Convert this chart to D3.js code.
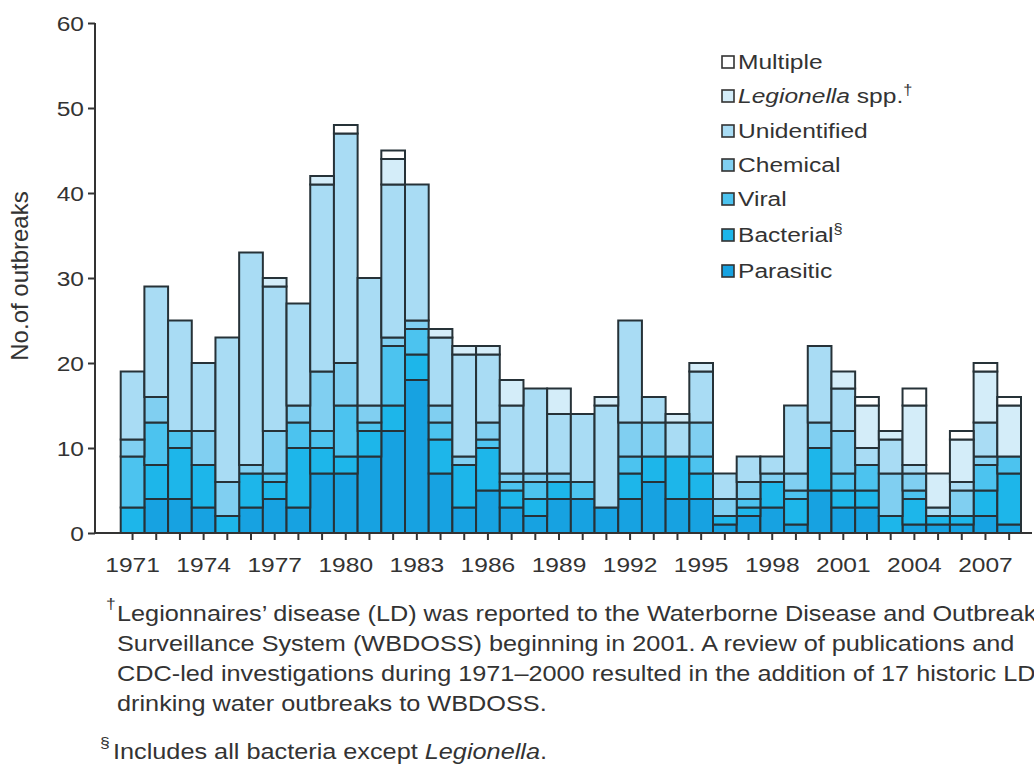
<!DOCTYPE html>
<html><head><meta charset="utf-8">
<script src="https://cdn.jsdelivr.net/npm/d3@7"></script>
<style>body{margin:0;background:#fff}svg{display:block}text{font-family:"Liberation Sans",Arial,sans-serif;fill:#333}</style>
</head><body>
<svg id="c" width="1034" height="765"></svg>
<script>
const years = [1971,1972,1973,1974,1975,1976,1977,1978,1979,1980,1981,1982,1983,1984,1985,1986,1987,1988,1989,1990,1991,1992,1993,1994,1995,1996,1997,1998,1999,2000,2001,2002,2003,2004,2005,2006,2007,2008];
const parasitic    = [0,4,4,3,0,3,4,3,7,7,9,12,18,7,3,5,3,2,4,4,3,4,6,4,4,1,2,3,1,5,3,3,0,1,1,1,2,1];
const bacterial    = [3,4,6,5,2,4,2,7,3,2,3,3,3,4,5,5,2,2,2,0,0,3,3,5,3,1,1,3,3,5,2,2,2,3,1,1,3,6];
const viral        = [6,5,2,0,0,0,1,3,2,6,1,7,3,2,0,1,1,2,0,2,0,2,0,0,2,0,1,0,1,0,2,3,0,1,0,0,3,2];
const chemical     = [2,3,0,4,4,1,5,2,7,5,2,1,1,2,1,2,1,1,1,0,0,4,4,0,4,2,2,1,2,3,5,0,5,2,0,3,1,0];
const unidentified = [8,13,13,8,17,25,17,12,22,27,15,18,16,8,12,8,8,10,7,8,12,12,3,4,6,3,3,2,8,9,5,2,4,1,1,1,4,0];
const legionella   = [0,0,0,0,0,0,1,0,1,0,0,3,0,1,1,1,3,0,3,0,1,0,0,1,1,0,0,0,0,0,2,5,1,7,4,5,6,6];
const multiple     = [0,0,0,0,0,0,0,0,0,1,0,1,0,0,0,0,0,0,0,0,0,0,0,0,0,0,0,0,0,0,0,1,0,2,0,1,1,1];
const seriesKeys = ["Parasitic","Bacterial","Viral","Chemical","Unidentified","Legionella","Multiple"];
const seriesVals = [parasitic,bacterial,viral,chemical,unidentified,legionella,multiple];
const colors = ["#17a2e1","#1db6ea","#4cc3ef","#80cff1","#a9dcf4","#d4edf9","#ffffff"];
const yTicks = [0,10,20,30,40,50,60];
const xLabelYears = [1971,1974,1977,1980,1983,1986,1989,1992,1995,1998,2001,2004,2007];

const SX = 1.17; // horizontal stretch of the original lettering
const svg = d3.select("#c");
const table = years.map((yr,i)=>{const o={year:yr}; seriesKeys.forEach((k,j)=>o[k]=seriesVals[j][i]); return o;});
const stack = d3.stack().keys(seriesKeys)(table);

const x = d3.scaleBand().domain(years).range([120.7,1021]).padding(0);
const y = d3.scaleLinear().domain([0,60]).range([533,23]);
const color = d3.scaleOrdinal().domain(seriesKeys).range(colors);

function stext(g, xx, yy, str, size, anchor){
  return g.append("text").attr("transform",`translate(${xx},${yy}) scale(${SX},1)`)
    .attr("font-size",size).attr("text-anchor",anchor||"start").text(str);
}

// bars
const layers = svg.append("g").selectAll("g").data(stack).join("g").attr("fill",d=>color(d.key));
layers.selectAll("rect").data(d=>d.filter(s=>s[1]-s[0]>0)).join("rect")
  .attr("x",d=>x(d.data.year)).attr("width",x.bandwidth())
  .attr("y",d=>y(d[1])).attr("height",d=>y(d[0])-y(d[1]))
  .attr("stroke","#263238").attr("stroke-width",2);

// y axis
const yAxis = d3.axisLeft(y).tickValues(yTicks).tickSize(7).tickPadding(0).tickFormat(()=> "");
const ya = svg.append("g").attr("transform","translate(95,0)").call(yAxis);
ya.select(".domain").attr("stroke","#333").attr("stroke-width",2).attr("d","M0,23V533");
ya.selectAll(".tick line").attr("stroke","#333").attr("stroke-width",2);
yTicks.forEach(v=>stext(svg,84,y(v)+8,String(v),21,"end"));
svg.append("text").attr("transform","translate(28,276) rotate(-90)").attr("text-anchor","middle")
  .attr("font-size",24).text("No.of outbreaks");

// x axis
const xAxis = d3.axisBottom(x).tickSize(7).tickFormat(()=>"");
const xa = svg.append("g").attr("transform","translate(0,533)").call(xAxis);
xa.select(".domain").attr("stroke","#333").attr("stroke-width",2).attr("d","M95,0H1032");
xa.selectAll(".tick line").attr("stroke","#333").attr("stroke-width",2);
xLabelYears.forEach(yr=>stext(svg,x(yr)+x.bandwidth()/2,572,String(yr),21,"middle"));

// legend
const legY = [62,96,131,165,199,235,271];
const legOrder = seriesKeys.slice().reverse();
legOrder.forEach((k,i)=>{
  const cy = legY[i];
  svg.append("rect").attr("x",722).attr("y",cy-6).attr("width",12).attr("height",12)
    .attr("fill",color(k)).attr("stroke","#333").attr("stroke-width",1.6);
  const t = svg.append("text").attr("transform",`translate(738,${cy+7}) scale(${SX},1)`).attr("font-size",21);
  if(k==="Legionella"){
    t.append("tspan").attr("font-style","italic").text("Legionella");
    t.append("tspan").text(" spp.");
    t.append("tspan").attr("font-size",14).attr("dy",-8).text("\u2020");
  } else if(k==="Bacterial"){
    t.append("tspan").text("Bacterial");
    t.append("tspan").attr("font-size",14).attr("dy",-8).text("\u00A7");
  } else t.text(k);
});

// footnotes
const fn = ["Legionnaires\u2019 disease (LD) was reported to the Waterborne Disease and Outbreak",
  "Surveillance System (WBDOSS) beginning in 2001. A review of publications and",
  "CDC-led investigations during 1971\u20132000 resulted in the addition of 17 historic LD",
  "drinking water outbreaks to WBDOSS."];
stext(svg,106,609,"\u2020",15,"start");
fn.forEach((l,i)=>stext(svg,117,621+i*30,l,21.6,"start"));
stext(svg,100,748,"\u00A7",15,"start");
const f2 = svg.append("text").attr("transform",`translate(113,759) scale(${SX},1)`).attr("font-size",21.6);
f2.append("tspan").text("Includes all bacteria except ");
f2.append("tspan").attr("font-style","italic").text("Legionella");
f2.append("tspan").text(".");
</script>
</body></html>
